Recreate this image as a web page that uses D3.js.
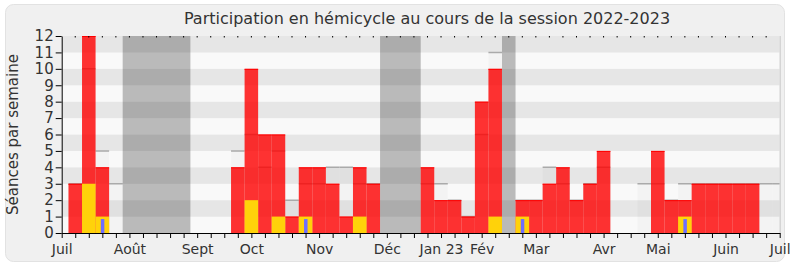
<!DOCTYPE html>
<html>
<head>
<meta charset="utf-8">
<script src="https://cdnjs.cloudflare.com/ajax/libs/d3/7.8.5/d3.min.js"></script>
<style>
  body { margin: 0; background: #fff; }
  text { font-family: "DejaVu Sans", Verdana, sans-serif; fill: #333; }
</style>
</head>
<body>
<div id="chart"></div>
<script>
// one entry per week, from week 0 (start of July 2022) to week 53 (July 2023)
var presences     = [0,3,12,4,0,0,0,0,0,0, 0,0,0,4,10,6,6,1,4,4, 3,1,4,3,0,0,0,4,2,2, 1,8,10,0,2,2,3,4,2,3, 5,0,0,0,5,2,2,3,3,3, 3,3,0,0];
var interventions = [0,0,3,1,0,0,0,0,0,0, 0,0,0,0,2,0,1,0,1,0, 0,0,1,0,0,0,0,0,0,0, 0,0,1,0,1,0,0,0,0,0, 0,0,0,0,0,0,1,0,0,0, 0,0,0,0];
var questions     = [0,0,0,0.85,0,0,0,0,0,0, 0,0,0,0,0,0,0,0,0.85,0, 0,0,0,0,0,0,0,0,0,0, 0,0,0,0,0.85,0,0,0,0,0, 0,0,0,0,0,0,0.85,0,0,0, 0,0,0,0];
var mediane       = [0,3,10,5,3,0,0,0,0,0, 0,0,0,5,6,4,5,2,3,3, 4,4,3,3,0,0,0,3,3,2, 1,6,11,0,2,2,4,3,2,3, 4,0,0,3,3,2,3,3,3,3, 3,3,3,3];
var vacances = [[5, 9], [24, 26], [33, 33]];
var monthLabels = ["Juil","Août","Sept","Oct","Nov","Déc","Jan 23","Fév","Mar","Avr","Mai","Juin","Juil"];
var monthWeeks  = [0, 5, 10, 14, 19, 24, 28, 31, 35, 40, 44, 49, 53];
var yTicks = d3.range(0, 13);

var width = 790, height = 267;
var plot = { left: 61.7, right: 779.7, top: 36, bottom: 233 };

var svg = d3.select("#chart").append("svg")
    .attr("width", width)
    .attr("height", height);

// panel
svg.append("rect")
    .attr("x", 5.5).attr("y", 4.5)
    .attr("width", 779).attr("height", 257)
    .attr("rx", 8).attr("ry", 8)
    .attr("fill", "#f0f0f0")
    .attr("stroke", "#e2e2e2");

svg.append("text")
    .attr("x", 427).attr("y", 24)
    .attr("text-anchor", "middle")
    .style("font-size", "16px")
    .text("Participation en hémicycle au cours de la session 2022-2023");

svg.append("text")
    .attr("transform", "translate(18," + ((plot.top + plot.bottom) / 2) + ") rotate(-90)")
    .attr("text-anchor", "middle")
    .style("font-size", "15px")
    .text("Séances par semaine");

var x = d3.scaleLinear().domain([0, 53]).range([plot.left, plot.right]);
var y = d3.scaleLinear().domain([0, 12]).range([plot.bottom, plot.top]);
var bw = x(1) - x(0);

svg.append("clipPath").attr("id", "plotclip")
  .append("rect")
    .attr("x", plot.left).attr("y", plot.top)
    .attr("width", plot.right - plot.left).attr("height", plot.bottom - plot.top);

var g = svg.append("g").attr("clip-path", "url(#plotclip)");

// horizontal stripes
g.selectAll(".stripe")
    .data(d3.range(0, 12))
  .enter().append("rect")
    .attr("x", plot.left)
    .attr("width", plot.right - plot.left)
    .attr("y", function(d) { return y(d + 1); })
    .attr("height", function(d) { return y(d) - y(d + 1); })
    .attr("fill", function(d) { return d % 2 ? "#e6e6e6" : "#f9f9f9"; });

var weeks = d3.range(0, presences.length);

// median of all deputies
var medWeeks = weeks.filter(function(i) { return mediane[i] > 0; });
g.selectAll(".med")
    .data(medWeeks)
  .enter().append("rect")
    .attr("x", function(i) { return x(i - 0.5); })
    .attr("width", bw)
    .attr("y", function(i) { return y(mediane[i]); })
    .attr("height", function(i) { return y(0) - y(mediane[i]); })
    .attr("fill", "rgba(0,0,0,0.025)");

g.selectAll(".medline")
    .data(medWeeks)
  .enter().append("line")
    .attr("x1", function(i) { return x(i - 0.5); })
    .attr("x2", function(i) { return x(i + 0.5); })
    .attr("y1", function(i) { return y(mediane[i]); })
    .attr("y2", function(i) { return y(mediane[i]); })
    .attr("stroke", "#aaa")
    .attr("stroke-width", 1.5);

// vacances parlementaires
g.selectAll(".vac")
    .data(vacances)
  .enter().append("rect")
    .attr("x", function(d) { return x(d[0] - 0.5); })
    .attr("width", function(d) { return x(d[1] + 0.5) - x(d[0] - 0.5); })
    .attr("y", plot.top)
    .attr("height", plot.bottom - plot.top)
    .attr("fill", "rgba(0,0,0,0.25)");

// presences
var pres = weeks.filter(function(i) { return presences[i] > 0; });
g.selectAll(".pres")
    .data(pres)
  .enter().append("rect")
    .attr("x", function(i) { return x(i - 0.5); })
    .attr("width", bw)
    .attr("y", function(i) { return y(presences[i]); })
    .attr("height", function(i) { return y(0) - y(presences[i]); })
    .attr("fill", "rgba(255,0,0,0.8)");

g.selectAll(".prestop")
    .data(pres)
  .enter().append("line")
    .attr("x1", function(i) { return x(i - 0.5); })
    .attr("x2", function(i) { return x(i + 0.5); })
    .attr("y1", function(i) { return y(presences[i]) + 0.5; })
    .attr("y2", function(i) { return y(presences[i]) + 0.5; })
    .attr("stroke", "#ff0000");

// interventions
g.selectAll(".interv")
    .data(weeks.filter(function(i) { return interventions[i] > 0; }))
  .enter().append("rect")
    .attr("x", function(i) { return x(i - 0.5); })
    .attr("width", bw)
    .attr("y", function(i) { return y(interventions[i]); })
    .attr("height", function(i) { return y(0) - y(interventions[i]); })
    .attr("fill", "#ffd20a");

// questions
g.selectAll(".quest")
    .data(weeks.filter(function(i) { return questions[i] > 0; }))
  .enter().append("rect")
    .attr("x", function(i) { return x(i) - 1.5; })
    .attr("width", 3.5)
    .attr("y", function(i) { return y(questions[i]); })
    .attr("height", function(i) { return y(0) - y(questions[i]); })
    .attr("fill", "#6e6eff");

// right border
svg.append("line")
    .attr("x1", plot.right + 0.5).attr("x2", plot.right + 0.5)
    .attr("y1", plot.top).attr("y2", plot.bottom)
    .attr("stroke", "#c8c8c8");

// top little ticks
svg.selectAll(".toptick")
    .data(d3.range(1, 53))
  .enter().append("line")
    .attr("x1", function(i) { return x(i); })
    .attr("x2", function(i) { return x(i); })
    .attr("y1", plot.top).attr("y2", plot.top + 1.5)
    .attr("stroke", "#000");

// axes
var yAxis = svg.append("g")
    .attr("transform", "translate(" + plot.left + ",0)")
    .call(d3.axisLeft(y).tickValues(yTicks).tickSize(6).tickPadding(2).tickSizeOuter(0));
yAxis.selectAll("text").style("font-size", "15px").attr("fill", "#333");

var xAxis = svg.append("g")
    .attr("transform", "translate(0," + plot.bottom + ")")
    .call(d3.axisBottom(x).tickValues(d3.range(0, 54)).tickSize(5).tickSizeOuter(0)
      .tickFormat(function(d) {
        var k = monthWeeks.indexOf(d);
        return k >= 0 ? monthLabels[k] : "";
      }));
xAxis.selectAll("text").style("font-size", "14px").attr("fill", "#333").attr("dy", "0.9em");
svg.selectAll(".domain").attr("stroke", "#000");
</script>
</body>
</html>
